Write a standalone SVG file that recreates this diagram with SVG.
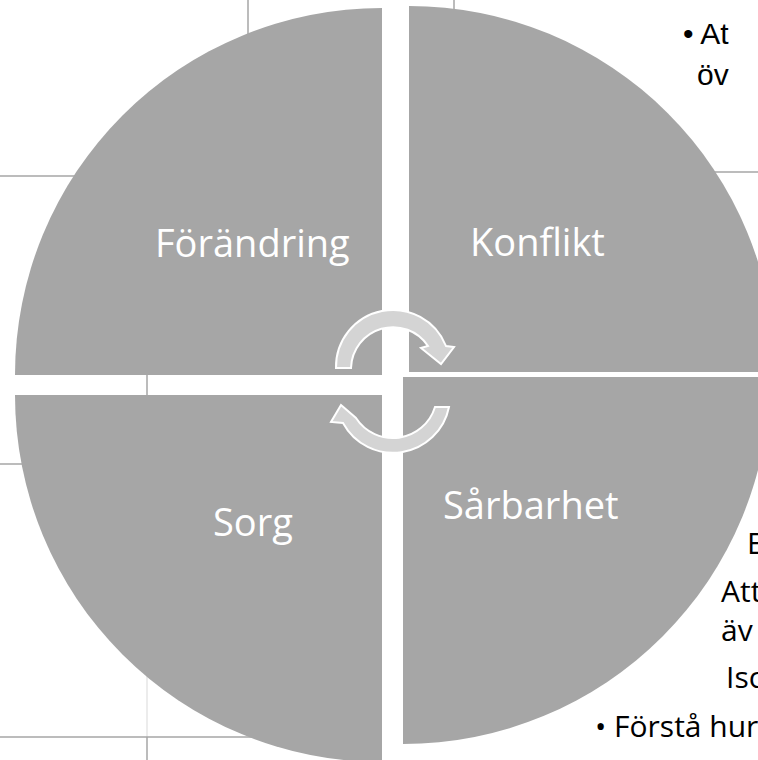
<svg xmlns="http://www.w3.org/2000/svg" width="758" height="760" viewBox="0 0 758 760">
<style>
.grid{stroke:#a6a6a6;stroke-width:1.5;fill:none}
.faint{stroke:#e6e6e6;stroke-width:1.5;fill:none}
.seg{fill:#a6a6a6}
.lbl{font-family:"Open Sans","Liberation Sans",sans-serif;font-size:38px;fill:#ffffff}
.arrow{fill:#d4d4d4;stroke:#ffffff;stroke-width:2;stroke-linejoin:miter}
.body{font-family:"Open Sans","Liberation Sans",sans-serif;font-size:30px;fill:#000000}
.arial{font-family:"Liberation Sans",Arial,sans-serif;font-size:30px;fill:#000000}
</style>
<rect x="0" y="0" width="758" height="760" fill="#ffffff"/>
<g id="background">
<line class="grid" x1="248" y1="0" x2="248" y2="60"/>
<line class="grid" x1="454" y1="0" x2="454" y2="40"/>
<line class="grid" x1="0" y1="176" x2="100" y2="176"/>
<line class="grid" x1="680" y1="172" x2="758" y2="172"/>
<line class="grid" x1="147" y1="340" x2="147" y2="420"/>
<line class="grid" x1="0" y1="464" x2="60" y2="464"/>
<line class="faint" x1="147" y1="660" x2="147" y2="737"/>
<line class="grid" x1="147" y1="737" x2="147" y2="760"/>
<line class="grid" x1="0" y1="737" x2="260" y2="737"/>
<text class="arial" x="683" y="44">• At</text>
<text class="arial" x="697" y="85">öv</text>
<text class="body" x="747" y="554">E</text>
<text class="body" x="721" y="602">Att</text>
<text class="body" x="721" y="641">äv</text>
<text class="body" x="726" y="688">Isc</text>
<text class="body" x="595" y="737" font-size="31">• Förstå hur</text>
</g>
<g id="forandring">
<path class="seg" d="M382,375 L15,375 A367,367 0 0 1 382,8 Z"/>
<text class="lbl" x="155" y="257">Förändring</text>
</g>
<g id="konflikt">
<path class="seg" d="M409,372 L409,6 A366,366 0 0 1 775,372 Z"/>
<text class="lbl" x="470" y="256">Konflikt</text>
</g>
<g id="sorg">
<path class="seg" d="M382,395 L382,762 A367,367 0 0 1 15,395 Z"/>
<text class="lbl" x="213" y="536">Sorg</text>
</g>
<g id="sarbarhet">
<path class="seg" d="M403,377 L770,377 A367,367 0 0 1 403,744 Z"/>
<text class="lbl" x="443" y="519">Sårbarhet</text>
</g>
<g id="connectors">
<path class="arrow" d="M336,368 A57,57 0 0 1 446,346 L454,347 L441,364 L421,348 L428,346 A42,42 0 0 0 351,368 Z"/>
<path class="arrow" d="M449,407 A57,57 0 0 1 343,423 L331,422 L341,405 L356,418 A44,44 0 0 0 435,407 Z"/>
</g>
</svg>
